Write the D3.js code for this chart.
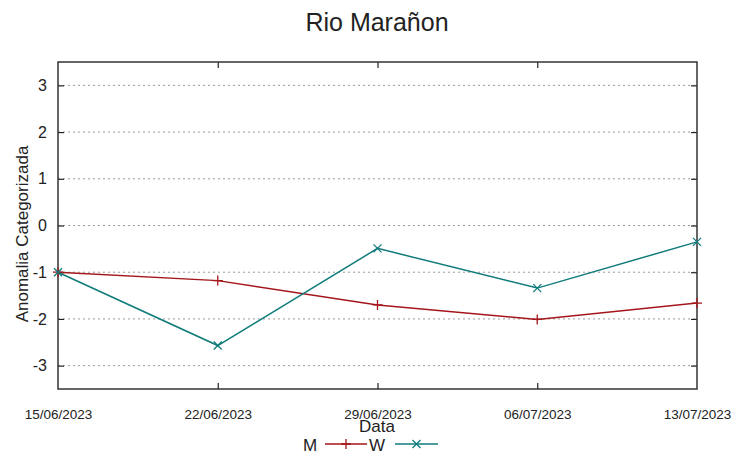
<!DOCTYPE html>
<html>
<head>
<meta charset="utf-8">
<script src="https://cdn.jsdelivr.net/npm/d3@7"></script>
<style>
  body { margin: 0; background: #fff; }
  text { font-family: "Liberation Sans", Arial, sans-serif; fill: #222; }
</style>
</head>
<body>
<div id="chart"></div>
<script>
// data
var dates = ["15/06/2023", "22/06/2023", "29/06/2023", "06/07/2023", "13/07/2023"];
var valuesM = [-1.0, -1.18, -1.70, -2.01, -1.66];
var valuesW = [-1.0, -2.57, -0.49, -1.34, -0.35];
var yTicks = [-3, -2, -1, 0, 1, 2, 3];

var W = 753, H = 459;
var margin = {top: 62, right: 56, bottom: 70, left: 58},
    width = W - margin.left - margin.right,
    height = H - margin.top - margin.bottom;

var svg = d3.select("#chart")
  .append("svg")
    .attr("width", W)
    .attr("height", H);

var g = svg.append("g")
    .attr("transform", "translate(" + margin.left + "," + margin.top + ")");

var x = d3.scalePoint()
  .domain(dates)
  .range([0, width]);

var y = d3.scaleLinear()
  .domain([-3.5, 3.5])
  .range([height, 0]);

// grid
g.selectAll(".grid")
  .data(yTicks)
  .enter()
  .append("line")
    .attr("x1", 0)
    .attr("x2", width)
    .attr("y1", function(d) { return y(d); })
    .attr("y2", function(d) { return y(d); })
    .attr("stroke", "#9a9a9a")
    .attr("stroke-width", 1)
    .attr("stroke-dasharray", "2,3");

// axes with inward ticks
var axLeft = g.append("g")
  .call(d3.axisLeft(y).tickValues(yTicks).tickSize(-6).tickPadding(11).tickFormat(function(d) { return String(d); }));
var axRight = g.append("g")
  .attr("transform", "translate(" + width + ",0)")
  .call(d3.axisRight(y).tickValues(yTicks).tickSize(-6).tickFormat(""));
var axBottom = g.append("g")
  .attr("transform", "translate(0," + height + ")")
  .call(d3.axisBottom(x).tickSize(-6).tickPadding(20));
var axTop = g.append("g")
  .call(d3.axisTop(x).tickSize(-6).tickFormat(""));

[axLeft, axRight, axBottom, axTop].forEach(function(a) {
  a.select(".domain").remove();
  a.selectAll(".tick line").attr("stroke", "#222").attr("stroke-width", 1.2);
});
axLeft.selectAll("text").style("font-size", "16px").attr("fill", "#222");
axBottom.selectAll("text").style("font-size", "13.5px").attr("fill", "#222");
axBottom.selectAll(".tick").filter(function(d, i) { return i === 0 || i === dates.length - 1; }).select("line").remove();
axTop.selectAll(".tick").filter(function(d, i) { return i === 0 || i === dates.length - 1; }).select("line").remove();

// border
g.append("rect")
  .attr("x", 0)
  .attr("y", 0)
  .attr("width", width)
  .attr("height", height)
  .attr("fill", "none")
  .attr("stroke", "#333")
  .attr("stroke-width", 1.5);

var colorM = "#a4161a", colorW = "#0f7b7b";

var line = d3.line()
  .x(function(d, i) { return x(dates[i]); })
  .y(function(d) { return y(d); });

g.append("path")
  .datum(valuesM)
  .attr("fill", "none")
  .attr("stroke", colorM)
  .attr("stroke-width", 1.5)
  .attr("d", line);

g.append("path")
  .datum(valuesW)
  .attr("fill", "none")
  .attr("stroke", colorW)
  .attr("stroke-width", 1.5)
  .attr("d", line);

function plusPath(s) { return "M" + (-s) + ",0H" + s + "M0," + (-s) + "V" + s; }
function crossPath(s) { return "M" + (-s) + "," + (-s) + "L" + s + "," + s + "M" + (-s) + "," + s + "L" + s + "," + (-s); }

g.selectAll(".ptM")
  .data(valuesM)
  .enter()
  .append("path")
    .attr("transform", function(d, i) { return "translate(" + x(dates[i]) + "," + y(d) + ")"; })
    .attr("d", plusPath(5))
    .attr("stroke", colorM)
    .attr("stroke-width", 1.3);

g.selectAll(".ptW")
  .data(valuesW)
  .enter()
  .append("path")
    .attr("transform", function(d, i) { return "translate(" + x(dates[i]) + "," + y(d) + ")"; })
    .attr("d", crossPath(4))
    .attr("stroke", colorW)
    .attr("stroke-width", 1.3);

// title and labels
svg.append("text")
  .attr("x", 377)
  .attr("y", 31)
  .attr("text-anchor", "middle")
  .style("font-size", "25px")
  .text("Rio Marañon");

svg.append("text")
  .attr("transform", "translate(28,234)rotate(-90)")
  .attr("text-anchor", "middle")
  .style("font-size", "17px")
  .text("Anomalia Categorizada");

svg.append("text")
  .attr("x", 377)
  .attr("y", 432)
  .attr("text-anchor", "middle")
  .style("font-size", "17px")
  .text("Data");

// legend
var legend = [
  {name: "M", color: colorM, tx: 310, x1: 325, x2: 367, mark: plusPath(5)},
  {name: "W", color: colorW, tx: 377, x1: 395, x2: 438, mark: crossPath(4)}
];
var lg = svg.selectAll(".leg")
  .data(legend)
  .enter()
  .append("g");
lg.append("text")
  .attr("x", function(d) { return d.tx; })
  .attr("y", 451)
  .attr("text-anchor", "middle")
  .style("font-size", "17px")
  .text(function(d) { return d.name; });
lg.append("line")
  .attr("x1", function(d) { return d.x1; })
  .attr("x2", function(d) { return d.x2; })
  .attr("y1", 444)
  .attr("y2", 444)
  .attr("stroke", function(d) { return d.color; })
  .attr("stroke-width", 1.5);
lg.append("path")
  .attr("transform", function(d) { return "translate(" + (d.x1 + d.x2) / 2 + ",444)"; })
  .attr("d", function(d) { return d.mark; })
  .attr("stroke", function(d) { return d.color; })
  .attr("stroke-width", 1.3);
</script>
</body>
</html>
